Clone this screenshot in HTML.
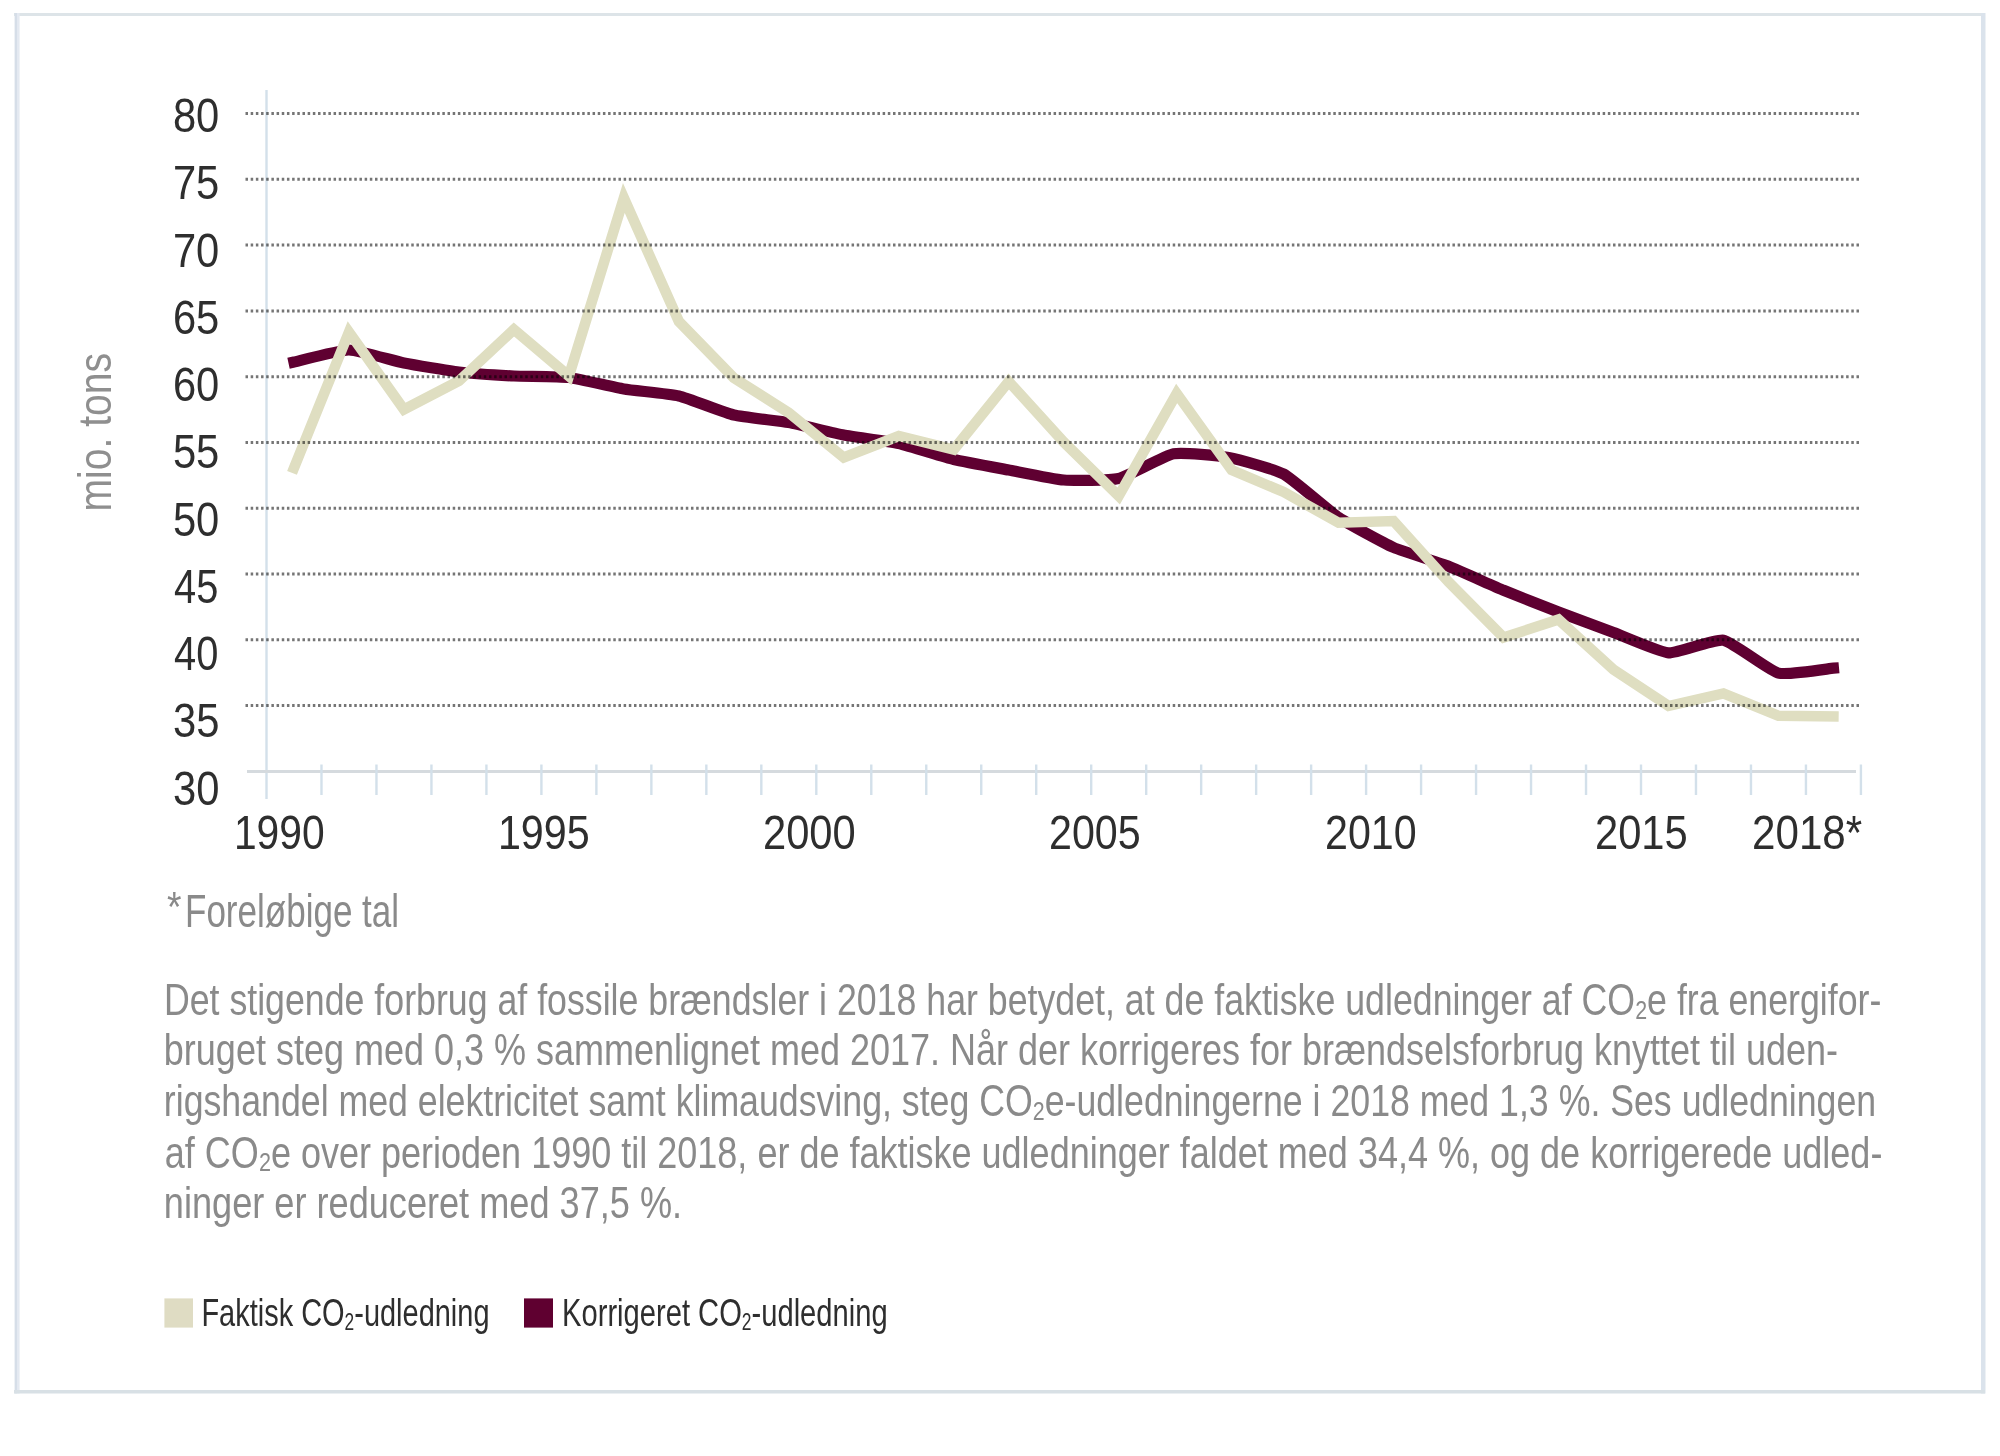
<!DOCTYPE html><html><head><meta charset="utf-8"><style>html,body{margin:0;padding:0;background:#fff;width:2000px;height:1456px;overflow:hidden}svg{display:block}text{font-family:"Liberation Sans",sans-serif}</style></head><body>
<svg width="2000" height="1456" viewBox="0 0 2000 1456">
<rect x="14" y="13" width="1971" height="3" fill="#dde4e8"/>
<rect x="14.6" y="13" width="2.4" height="1380.5" fill="#d6dee8"/><rect x="17" y="13" width="2.6" height="1380.5" fill="#e4e9f1"/>
<rect x="1981" y="13" width="4.5" height="1380.5" fill="#dbe3ec"/>
<rect x="14" y="1390" width="1971" height="3.5" fill="#d8e0e5"/>
<line x1="266.5" y1="90" x2="266.5" y2="799" stroke="#d3e0ea" stroke-width="2.4"/>
<line x1="247" y1="771.4" x2="1856" y2="771.4" stroke="#d5dade" stroke-width="3"/>
<line x1="321.48" y1="764.5" x2="321.48" y2="795" stroke="#d3e0ea" stroke-width="2.4"/>
<line x1="376.46" y1="764.5" x2="376.46" y2="795" stroke="#d3e0ea" stroke-width="2.4"/>
<line x1="431.44" y1="764.5" x2="431.44" y2="795" stroke="#d3e0ea" stroke-width="2.4"/>
<line x1="486.42" y1="764.5" x2="486.42" y2="795" stroke="#d3e0ea" stroke-width="2.4"/>
<line x1="541.40" y1="764.5" x2="541.40" y2="795" stroke="#d3e0ea" stroke-width="2.4"/>
<line x1="596.38" y1="764.5" x2="596.38" y2="795" stroke="#d3e0ea" stroke-width="2.4"/>
<line x1="651.36" y1="764.5" x2="651.36" y2="795" stroke="#d3e0ea" stroke-width="2.4"/>
<line x1="706.34" y1="764.5" x2="706.34" y2="795" stroke="#d3e0ea" stroke-width="2.4"/>
<line x1="761.32" y1="764.5" x2="761.32" y2="795" stroke="#d3e0ea" stroke-width="2.4"/>
<line x1="816.30" y1="764.5" x2="816.30" y2="795" stroke="#d3e0ea" stroke-width="2.4"/>
<line x1="871.28" y1="764.5" x2="871.28" y2="795" stroke="#d3e0ea" stroke-width="2.4"/>
<line x1="926.26" y1="764.5" x2="926.26" y2="795" stroke="#d3e0ea" stroke-width="2.4"/>
<line x1="981.24" y1="764.5" x2="981.24" y2="795" stroke="#d3e0ea" stroke-width="2.4"/>
<line x1="1036.22" y1="764.5" x2="1036.22" y2="795" stroke="#d3e0ea" stroke-width="2.4"/>
<line x1="1091.20" y1="764.5" x2="1091.20" y2="795" stroke="#d3e0ea" stroke-width="2.4"/>
<line x1="1146.18" y1="764.5" x2="1146.18" y2="795" stroke="#d3e0ea" stroke-width="2.4"/>
<line x1="1201.16" y1="764.5" x2="1201.16" y2="795" stroke="#d3e0ea" stroke-width="2.4"/>
<line x1="1256.14" y1="764.5" x2="1256.14" y2="795" stroke="#d3e0ea" stroke-width="2.4"/>
<line x1="1311.12" y1="764.5" x2="1311.12" y2="795" stroke="#d3e0ea" stroke-width="2.4"/>
<line x1="1366.10" y1="764.5" x2="1366.10" y2="795" stroke="#d3e0ea" stroke-width="2.4"/>
<line x1="1421.08" y1="764.5" x2="1421.08" y2="795" stroke="#d3e0ea" stroke-width="2.4"/>
<line x1="1476.06" y1="764.5" x2="1476.06" y2="795" stroke="#d3e0ea" stroke-width="2.4"/>
<line x1="1531.04" y1="764.5" x2="1531.04" y2="795" stroke="#d3e0ea" stroke-width="2.4"/>
<line x1="1586.02" y1="764.5" x2="1586.02" y2="795" stroke="#d3e0ea" stroke-width="2.4"/>
<line x1="1641.00" y1="764.5" x2="1641.00" y2="795" stroke="#d3e0ea" stroke-width="2.4"/>
<line x1="1695.98" y1="764.5" x2="1695.98" y2="795" stroke="#d3e0ea" stroke-width="2.4"/>
<line x1="1750.96" y1="764.5" x2="1750.96" y2="795" stroke="#d3e0ea" stroke-width="2.4"/>
<line x1="1805.94" y1="764.5" x2="1805.94" y2="795" stroke="#d3e0ea" stroke-width="2.4"/>
<line x1="1860.92" y1="764.5" x2="1860.92" y2="795" stroke="#d3e0ea" stroke-width="2.4"/>
<path d="M293.99,362.00 C298.39,361.04 340.17,349.92 348.97,350.00 C357.77,350.08 395.15,361.24 403.95,363.00 C412.75,364.76 450.13,370.96 458.93,372.00 C467.73,373.04 505.11,375.56 513.91,376.00 C522.71,376.44 560.09,376.46 568.89,377.50 C577.69,378.54 615.07,387.52 623.87,389.00 C632.67,390.48 670.05,393.92 678.85,396.00 C687.65,398.08 725.03,412.87 733.83,415.00 C742.63,417.13 780.01,421.00 788.81,422.60 C797.61,424.20 834.99,433.33 843.79,435.00 C852.59,436.67 889.97,441.54 898.77,443.50 C907.57,445.46 944.95,457.38 953.75,459.50 C962.55,461.62 999.93,468.36 1008.73,470.00 C1017.53,471.64 1054.91,479.32 1063.71,480.00 C1072.51,480.68 1109.89,480.60 1118.69,478.50 C1127.49,476.40 1164.87,455.43 1173.67,453.75 C1182.47,452.07 1219.85,455.88 1228.65,457.50 C1237.45,459.12 1274.83,469.20 1283.63,474.00 C1292.43,478.80 1329.81,511.62 1338.61,517.50 C1347.41,523.38 1384.79,543.60 1393.59,547.50 C1402.39,551.40 1439.77,562.83 1448.57,566.25 C1457.37,569.67 1494.75,586.59 1503.55,590.25 C1512.35,593.91 1549.73,608.62 1558.53,612.00 C1567.33,615.38 1604.71,629.24 1613.51,632.50 C1622.31,635.76 1659.69,652.18 1668.49,652.80 C1677.29,653.42 1714.67,638.58 1723.47,640.20 C1732.27,641.82 1769.65,670.86 1778.45,673.10 C1787.25,675.34 1829.03,668.59 1833.43,668.20" fill="none" stroke="#5f0031" stroke-width="11.2" stroke-linejoin="round" stroke-linecap="square"/>
<polyline points="293.99,468.00 348.97,332.00 403.95,409.50 458.93,381.00 513.91,329.50 568.89,376.00 623.87,198.00 678.85,321.50 733.83,378.00 788.81,412.70 843.79,457.50 898.77,436.00 953.75,449.50 1008.73,381.50 1063.71,442.00 1118.69,496.00 1176.67,393.50 1231.65,470.00 1283.63,492.00 1338.61,522.75 1393.59,521.00 1448.57,582.00 1503.55,637.50 1558.53,619.50 1613.51,669.60 1668.49,706.00 1723.47,693.40 1778.45,715.80 1833.43,716.50" fill="none" stroke="#dfdec1" stroke-width="10.5" stroke-linejoin="miter" stroke-miterlimit="10" stroke-linecap="square"/>
<line x1="245.5" y1="705.44" x2="1859" y2="705.44" stroke="#757575" stroke-width="3" stroke-dasharray="2.5 2.68" style="mix-blend-mode:multiply"/>
<line x1="245.5" y1="639.68" x2="1859" y2="639.68" stroke="#757575" stroke-width="3" stroke-dasharray="2.5 2.68" style="mix-blend-mode:multiply"/>
<line x1="245.5" y1="573.92" x2="1859" y2="573.92" stroke="#757575" stroke-width="3" stroke-dasharray="2.5 2.68" style="mix-blend-mode:multiply"/>
<line x1="245.5" y1="508.16" x2="1859" y2="508.16" stroke="#757575" stroke-width="3" stroke-dasharray="2.5 2.68" style="mix-blend-mode:multiply"/>
<line x1="245.5" y1="442.40" x2="1859" y2="442.40" stroke="#757575" stroke-width="3" stroke-dasharray="2.5 2.68" style="mix-blend-mode:multiply"/>
<line x1="245.5" y1="376.64" x2="1859" y2="376.64" stroke="#757575" stroke-width="3" stroke-dasharray="2.5 2.68" style="mix-blend-mode:multiply"/>
<line x1="245.5" y1="310.88" x2="1859" y2="310.88" stroke="#757575" stroke-width="3" stroke-dasharray="2.5 2.68" style="mix-blend-mode:multiply"/>
<line x1="245.5" y1="245.12" x2="1859" y2="245.12" stroke="#757575" stroke-width="3" stroke-dasharray="2.5 2.68" style="mix-blend-mode:multiply"/>
<line x1="245.5" y1="179.36" x2="1859" y2="179.36" stroke="#757575" stroke-width="3" stroke-dasharray="2.5 2.68" style="mix-blend-mode:multiply"/>
<line x1="245.5" y1="113.60" x2="1859" y2="113.60" stroke="#757575" stroke-width="3" stroke-dasharray="2.5 2.68" style="mix-blend-mode:multiply"/>
<text x="0" y="0" font-size="46" fill="#8f8f8f" transform="translate(110.8,511.5) rotate(-90)" textLength="158.5" lengthAdjust="spacingAndGlyphs">mio. tons</text>
<rect x="164.4" y="1298.4" width="28.6" height="29.2" fill="#dfdcc3"/>
<rect x="524" y="1298.4" width="29" height="29.2" fill="#5f0030"/>
<text x="172.92" y="132.00" font-size="49" fill="#2e2e2e" textLength="46.42" lengthAdjust="spacingAndGlyphs">80</text>
<text x="172.92" y="199.25" font-size="49" fill="#2e2e2e" textLength="46.42" lengthAdjust="spacingAndGlyphs">75</text>
<text x="172.92" y="266.50" font-size="49" fill="#2e2e2e" textLength="46.42" lengthAdjust="spacingAndGlyphs">70</text>
<text x="172.92" y="333.75" font-size="49" fill="#2e2e2e" textLength="46.42" lengthAdjust="spacingAndGlyphs">65</text>
<text x="172.92" y="401.00" font-size="49" fill="#2e2e2e" textLength="46.42" lengthAdjust="spacingAndGlyphs">60</text>
<text x="172.92" y="468.25" font-size="49" fill="#2e2e2e" textLength="46.42" lengthAdjust="spacingAndGlyphs">55</text>
<text x="172.92" y="535.50" font-size="49" fill="#2e2e2e" textLength="46.42" lengthAdjust="spacingAndGlyphs">50</text>
<text x="173.99" y="602.75" font-size="49" fill="#2e2e2e" textLength="44.31" lengthAdjust="spacingAndGlyphs">45</text>
<text x="173.99" y="670.00" font-size="49" fill="#2e2e2e" textLength="44.31" lengthAdjust="spacingAndGlyphs">40</text>
<text x="172.93" y="737.25" font-size="49" fill="#2e2e2e" textLength="46.42" lengthAdjust="spacingAndGlyphs">35</text>
<text x="172.93" y="804.50" font-size="49" fill="#2e2e2e" textLength="46.42" lengthAdjust="spacingAndGlyphs">30</text>
<text x="233.93" y="849.00" font-size="49" fill="#2e2e2e" textLength="90.69" lengthAdjust="spacingAndGlyphs">1990</text>
<text x="497.93" y="849.00" font-size="49" fill="#2e2e2e" textLength="91.72" lengthAdjust="spacingAndGlyphs">1995</text>
<text x="762.98" y="849.00" font-size="49" fill="#2e2e2e" textLength="92.71" lengthAdjust="spacingAndGlyphs">2000</text>
<text x="1048.98" y="849.00" font-size="49" fill="#2e2e2e" textLength="91.68" lengthAdjust="spacingAndGlyphs">2005</text>
<text x="1324.98" y="849.00" font-size="49" fill="#2e2e2e" textLength="91.68" lengthAdjust="spacingAndGlyphs">2010</text>
<text x="1594.98" y="849.00" font-size="49" fill="#2e2e2e" textLength="92.71" lengthAdjust="spacingAndGlyphs">2015</text>
<text x="1752.02" y="849.00" font-size="49" fill="#2e2e2e" textLength="110.22" lengthAdjust="spacingAndGlyphs">2018*</text>
<text x="166.96" y="920.50" font-size="42" fill="#8a8a8a" textLength="14.51" lengthAdjust="spacingAndGlyphs">*</text>
<text x="185.02" y="927.30" font-size="45.5" fill="#8a8a8a" textLength="214.05" lengthAdjust="spacingAndGlyphs">Foreløbige tal</text>
<text x="163.89" y="1015.00" font-size="44" fill="#8a8a8a" textLength="1717.47" lengthAdjust="spacingAndGlyphs">Det stigende forbrug af fossile brændsler i 2018 har betydet, at de faktiske udledninger af CO<tspan font-size="26.4" dy="3.7">2</tspan><tspan dy="-3.7">e fra energifor-</tspan></text>
<text x="163.86" y="1065.00" font-size="44" fill="#8a8a8a" textLength="1674.22" lengthAdjust="spacingAndGlyphs">bruget steg med 0,3 % sammenlignet med 2017. Når der korrigeres for brændselsforbrug knyttet til uden-</text>
<text x="163.86" y="1116.25" font-size="44" fill="#8a8a8a" textLength="1712.30" lengthAdjust="spacingAndGlyphs">rigshandel med elektricitet samt klimaudsving, steg CO<tspan font-size="26.4" dy="3.7">2</tspan><tspan dy="-3.7">e-udledningerne i 2018 med 1,3 %. Ses udledningen</tspan></text>
<text x="164.84" y="1167.50" font-size="44" fill="#8a8a8a" textLength="1717.55" lengthAdjust="spacingAndGlyphs">af CO<tspan font-size="26.4" dy="3.7">2</tspan><tspan dy="-3.7">e over perioden 1990 til 2018, er de faktiske udledninger faldet med 34,4 %, og de korrigerede udled-</tspan></text>
<text x="163.84" y="1218.00" font-size="44" fill="#8a8a8a" textLength="518.27" lengthAdjust="spacingAndGlyphs">ninger er reduceret med 37,5 %.</text>
<text x="201.44" y="1326.40" font-size="38.4" fill="#2e2e2e" textLength="288.07" lengthAdjust="spacingAndGlyphs">Faktisk CO<tspan font-size="23.0" dy="3.3">2</tspan><tspan dy="-3.3">-udledning</tspan></text>
<text x="562.04" y="1326.40" font-size="38.4" fill="#2e2e2e" textLength="325.59" lengthAdjust="spacingAndGlyphs">Korrigeret CO<tspan font-size="23.0" dy="3.3">2</tspan><tspan dy="-3.3">-udledning</tspan></text>
</svg></body></html>
